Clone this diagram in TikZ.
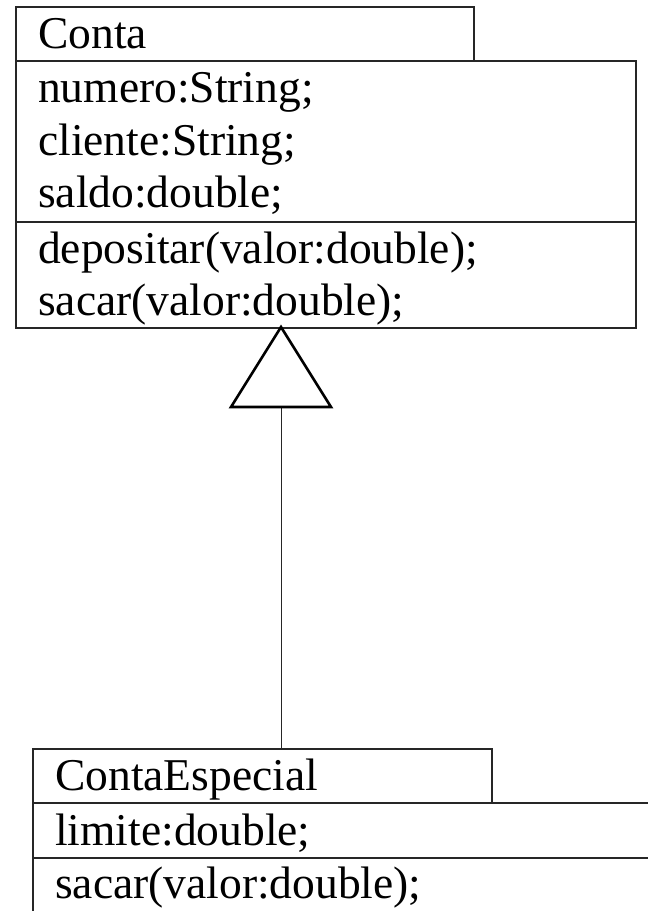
\documentclass[tikz,border=0pt]{standalone}
\usepackage{fontspec}
\setmainfont{Liberation Serif}
\begin{document}
\begin{tikzpicture}[x=1pt,y=-1pt,
  box/.style={draw=black!85,line width=1.1pt,anchor=north west,inner sep=0pt,outer sep=0pt},
  txt/.style={anchor=base west,inner sep=0pt,font=\fontsize{45.5}{50}\selectfont},
  gen/.style={draw=black!85,line width=1pt},
  genhead/.style={draw=black,line width=2.6pt,line join=miter,fill=white}]
\clip (0,0) rectangle (648,911);
% Conta
\node[box,minimum width=458pt,minimum height=54pt] (cH) at (16,7) {};
\node[box,minimum width=620pt,minimum height=161pt] (cA) at (16,61) {};
\node[box,minimum width=620pt,minimum height=106pt] (cM) at (16,222) {};
\node[txt] (t1) at (38,48) {Conta};
\node[txt] (t2) at (38,102) {numero:String;};
\node[txt] (t3) at (38,155) {cliente:String;};
\node[txt] (t4) at (38,207) {saldo:double;};
\node[txt] (t5) at (38,263) {depositar(valor:double);};
\node[txt] (t6) at (38,315) {sacar(valor:double);};
% ContaEspecial
\node[box,minimum width=459pt,minimum height=54pt] (eH) at (33,749) {};
\node[box,minimum width=660pt,minimum height=55pt] (eA) at (33,803) {};
\node[box,minimum width=660pt,minimum height=80pt] (eM) at (33,858) {};
\node[txt] (u1) at (55,790) {ContaEspecial};
\node[txt] (u2) at (55,845) {limite:double;};
\node[txt] (u3) at (55,898) {sacar(valor:double);};
% generalization
\coordinate (apex) at (281,327);
\coordinate (base) at (281,407);
\draw[gen] (eH.north -| base) -- (base);
\draw[genhead] (apex) -- ([xshift=-50pt]base) -- ([xshift=50pt]base) -- cycle;
\end{tikzpicture}
\end{document}
